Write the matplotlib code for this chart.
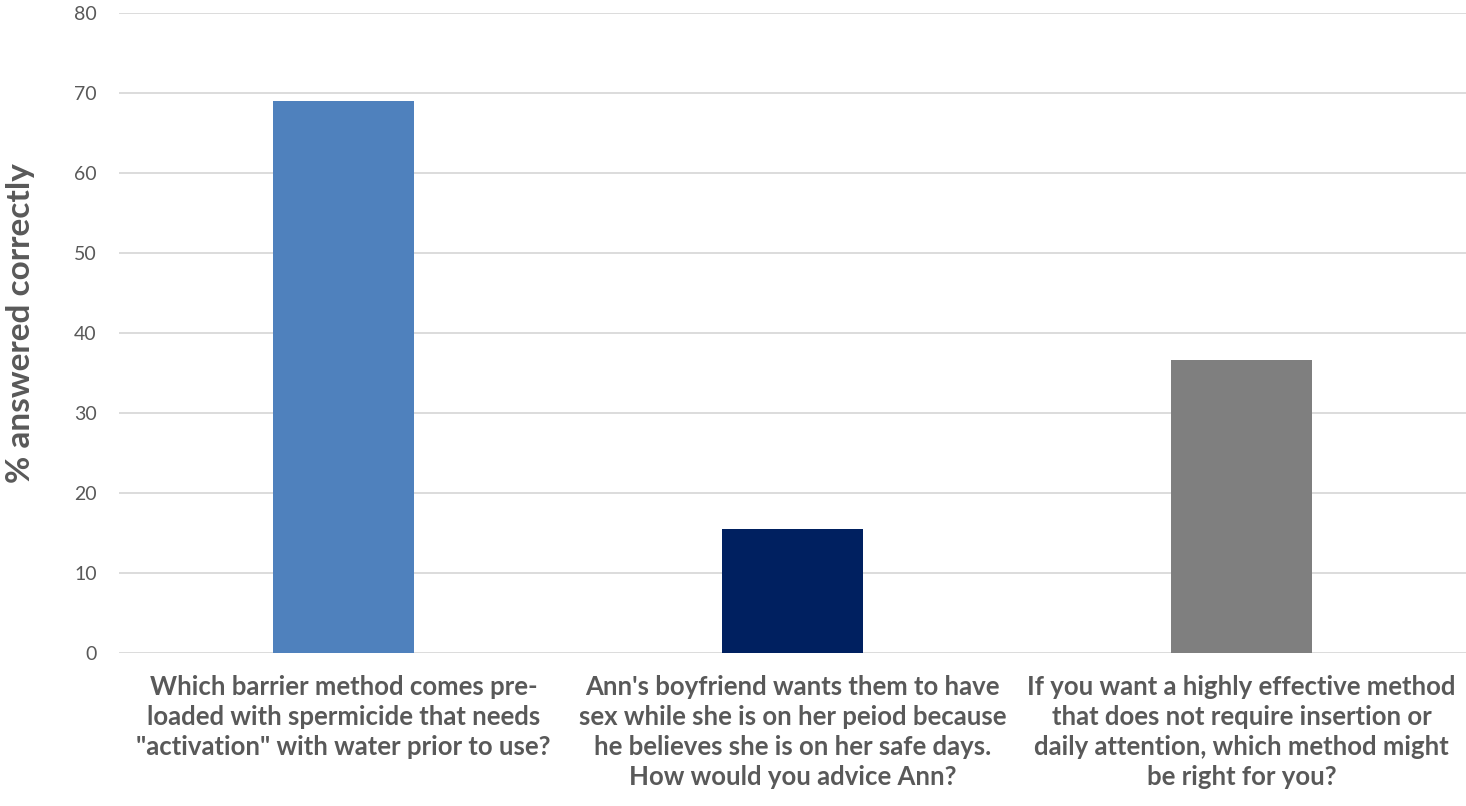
import matplotlib.pyplot as plt

categories = [
    "Which barrier method comes pre-\nloaded with spermicide that needs\n\"activation\" with water prior to use?",
    "Ann's boyfriend wants them to have\nsex while she is on her peiod because\nhe believes she is on her safe days.\nHow would you advice Ann?",
    "If you want a highly effective method\nthat does not require insertion or\ndaily attention, which method might\nbe right for you?",
]
values = [69.0, 15.5, 36.6]
colors = ["#4F81BD", "#002060", "#7F7F7F"]
yticks = [0, 10, 20, 30, 40, 50, 60, 70, 80]

plt.rcParams['font.family'] = ['Lato', 'DejaVu Sans']
text_color = "#595959"

fig = plt.figure(figsize=(14.66, 8.06), dpi=100)
ax = fig.add_axes([119 / 1466, 1 - 653 / 806, 1 - 119 / 1466, (653 - 13) / 806])

x = list(range(len(categories)))
ax.bar(x, values, width=0.314, color=colors, zorder=3)

ax.set_xlim(-0.5, 2.5)
ax.set_ylim(0, 80)
ax.set_yticks(yticks)
ax.set_yticklabels([str(t) for t in yticks], fontsize=14, color=text_color)
ax.set_xticks(x)
ax.set_xticklabels(categories, fontsize=18.5, fontweight='bold', color=text_color, linespacing=1.3)
ax.tick_params(axis='y', length=0, pad=16)
ax.tick_params(axis='x', length=0, pad=16)

ax.grid(axis='y', color="#D9D9D9", linewidth=1.3, zorder=0)
for s in ax.spines.values():
    s.set_visible(False)

fig.text(21 / 1466, 1 - 323 / 806, "% answered correctly", rotation=90, ha='center', va='center',
         fontsize=24, fontweight='bold', color=text_color)

fig.savefig("out.png", dpi=100)
